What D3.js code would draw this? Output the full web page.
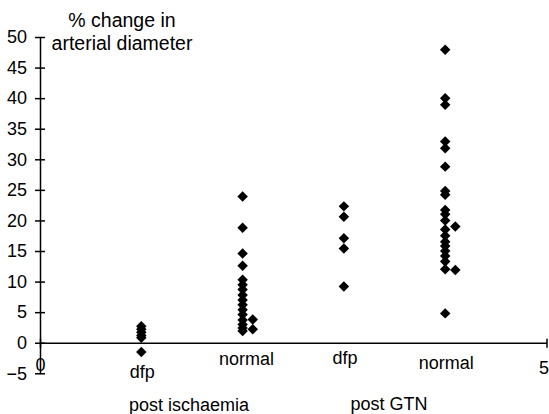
<!DOCTYPE html>
<html>
<head>
<meta charset="utf-8">
<script src="https://cdn.jsdelivr.net/npm/d3@7"></script>
<style>
  body { margin: 0; background: #fff; }
  svg { font-family: "Liberation Sans", Arial, sans-serif; }
  .tick text { font-size: 18px; fill: #000; }
  .tick line, .domain { stroke: #000; stroke-width: 1.5; }
</style>
</head>
<body>
<script>

// Values (% change in arterial diameter).
const ischDfp = [2.7, 2.2, 1.7, 1.2, 0.8, -1.5];
const ischNormal = [23.9, 18.8, 14.6, 12.6, 10.3, 9.5, 8.7, 7.8, 7.0, 6.2,
                    5.4, 4.6, 3.7, 3.0, 2.4, 1.9];
const ischNormalSide = [3.8, 2.2];
const gtnDfp = [22.3, 20.6, 17.1, 15.4, 9.2];
const gtnNormal = [47.9, 40.0, 38.9, 32.9, 31.8, 28.8, 24.8, 24.2, 21.7, 21.0,
                   20.0, 18.5, 17.5, 16.5, 15.8, 15.0, 14.2, 13.3, 12.0, 4.8];
const gtnNormalSide = [19.0, 11.9];

// x value of each series on the 0..5 axis
const seriesX = [1, 2, 2.1, 3, 4, 4.1];
const seriesValues = [ischDfp, ischNormal, ischNormalSide, gtnDfp, gtnNormal, gtnNormalSide];

const categories = ["dfp", "normal", "dfp", "normal"];
const categoryX = [1, 2, 3, 4];
const groups = ["post ischaemia", "post GTN"];
const yTicks = [-5, 0, 5, 10, 15, 20, 25, 30, 35, 40, 45, 50];
const xTicks = [0, 5];
const titleLines = ["% change in", "arterial diameter"];

const width = 549, height = 414;

const svg = d3.select("body").append("svg")
              .attr("width", width)
              .attr("height", height);

const x = d3.scaleLinear().domain([0, 5]).range([40, 546.5]);
const y = d3.scaleLinear().domain([-5, 50]).range([373.3, 37]);

// Y axis, ticks crossing the line.
const yAxis = svg.append("g")
  .attr("transform", `translate(${x(0)},0)`)
  .call(d3.axisLeft(y).tickValues(yTicks).tickSize(5).tickPadding(8).tickSizeOuter(0));
yAxis.selectAll(".tick line").attr("x1", -5).attr("x2", 5);

// X axis sits at y = 0.
const xAxis = svg.append("g")
  .attr("transform", `translate(0,${y(0)})`)
  .call(d3.axisBottom(x).tickValues(xTicks).tickFormat(d3.format("d"))
          .tickSize(5).tickPadding(11).tickSizeOuter(0));
xAxis.selectAll(".tick line").attr("y1", -4).attr("y2", 5);
// The "5" sits against the right edge; keep it inside the page.
xAxis.selectAll(".tick")
  .filter(d => d === 5)
  .select("text")
  .attr("y", 19)
  .attr("text-anchor", "end")
  .attr("x", 2);

// Diamonds
const diamond = d3.symbol().type(d3.symbolSquare).size(55);
const points = seriesValues.flatMap((vals, i) => vals.map(v => ({x: seriesX[i], v: v})));

svg.append("g").selectAll("path")
  .data(points)
  .join("path")
  .attr("d", diamond)
  .attr("fill", "#000")
  .attr("transform", d => `translate(${x(d.x)},${y(d.v)}) rotate(45)`);

// Category labels, placed as text boxes under the axis.
const catBaseline = [378, 365, 364, 369];
svg.append("g").selectAll("text")
  .data(categories)
  .join("text")
  .attr("x", (d, i) => x(categoryX[i]) + (i === 1 ? 4 : 1))
  .attr("y", (d, i) => catBaseline[i])
  .attr("text-anchor", "middle")
  .attr("font-size", 18)
  .text(d => d);

// Group labels
const groupCenter = [189, 389];
svg.append("g").selectAll("text")
  .data(groups)
  .join("text")
  .attr("x", (d, i) => groupCenter[i])
  .attr("y", (d, i) => 411 - i)
  .attr("text-anchor", "middle")
  .attr("font-size", 18)
  .text(d => d);

// Axis title
svg.append("g").selectAll("text")
  .data(titleLines)
  .join("text")
  .attr("x", 122)
  .attr("y", (d, i) => 27 + i * 23)
  .attr("text-anchor", "middle")
  .attr("font-size", 19.5)
  .text(d => d);

</script>
</body>
</html>
